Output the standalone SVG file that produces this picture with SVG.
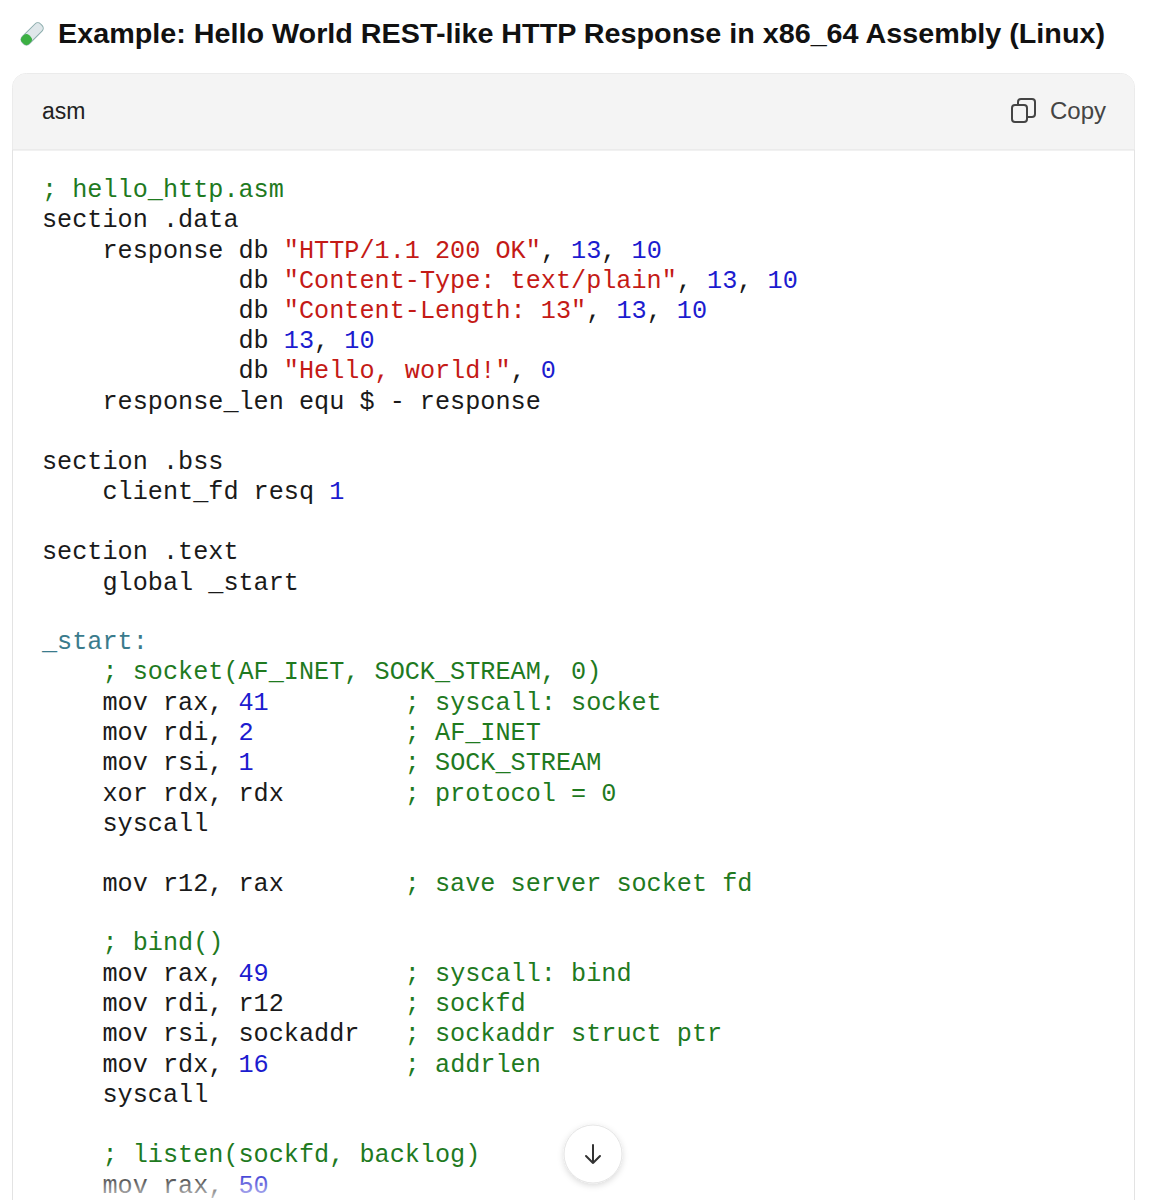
<svg xmlns="http://www.w3.org/2000/svg" width="1166" height="1200" viewBox="0 0 1166 1200">
<style>
.c{font-family:"Liberation Mono","DejaVu Sans Mono",monospace;font-size:25.2px;fill:#1a1a1a;white-space:pre}
.g{fill:#1f7a1f}.n{fill:#1c1ccf}.s{fill:#c41a16}.l{fill:#3a7b8c}
.ui{font-family:"Liberation Sans",Arial,sans-serif}
</style>
<defs>
<linearGradient id="fade" x1="0" y1="0" x2="0" y2="1"><stop offset="0" stop-color="#fff" stop-opacity="0"/><stop offset="1" stop-color="#fff" stop-opacity="0.75"/></linearGradient>
<filter id="sh" x="-30%" y="-30%" width="160%" height="160%"><feDropShadow dx="0" dy="2" stdDeviation="3" flood-opacity="0.15"/></filter>
</defs>
<rect width="1166" height="1200" fill="#fff"/>
<g id="title">
<g transform="translate(30,36) rotate(45)"><rect x="-5" y="-16" width="10" height="26" rx="4" fill="#dfe7ea" stroke="#8aa" stroke-width="1"/><rect x="-5" y="0" width="10" height="10" rx="4" fill="#3cb043"/></g>
<text class="ui" x="58" y="43" font-size="27" font-weight="bold" fill="#111" textLength="1047" lengthAdjust="spacingAndGlyphs">Example: Hello World REST-like HTTP Response in x86_64 Assembly (Linux)</text>
</g>
<g id="codeblock">
<rect x="12.5" y="73.5" width="1122" height="1160" rx="14" fill="#fff" stroke="#e3e3e3"/>
<path d="M12.5 150 V87.5 a14 14 0 0 1 14 -14 H1120.5 a14 14 0 0 1 14 14 V150 Z" fill="#f4f4f4"/>
<line x1="12.5" y1="150" x2="1134.5" y2="150" stroke="#e3e3e3"/>
<text class="ui" x="42" y="119" font-size="23" fill="#222">asm</text>
<g fill="none" stroke="#444" stroke-width="2"><rect x="1012" y="105" width="15" height="17" rx="3"/><path d="M1018 105 V102 a3 3 0 0 1 3 -3 H1032 a3 3 0 0 1 3 3 V114 a3 3 0 0 1 -3 3 H1027"/></g>
<text class="ui" x="1050" y="119" font-size="24" fill="#444">Copy</text>
</g>
<g id="code" class="c" xml:space="preserve">
<text x="42" y="197" class="c g">; hello_http.asm</text>
<text x="42" y="227" class="c">section .data</text>
<text x="42" y="258" class="c">    response db <tspan class="s">"HTTP/1.1 200 OK"</tspan>, <tspan class="n">13</tspan>, <tspan class="n">10</tspan></text>
<text x="42" y="288" class="c">             db <tspan class="s">"Content-Type: text/plain"</tspan>, <tspan class="n">13</tspan>, <tspan class="n">10</tspan></text>
<text x="42" y="318" class="c">             db <tspan class="s">"Content-Length: 13"</tspan>, <tspan class="n">13</tspan>, <tspan class="n">10</tspan></text>
<text x="42" y="348" class="c">             db <tspan class="n">13</tspan>, <tspan class="n">10</tspan></text>
<text x="42" y="378" class="c">             db <tspan class="s">"Hello, world!"</tspan>, <tspan class="n">0</tspan></text>
<text x="42" y="409" class="c">    response_len equ $ - response</text>
<text x="42" y="469" class="c">section .bss</text>
<text x="42" y="499" class="c">    client_fd resq <tspan class="n">1</tspan></text>
<text x="42" y="559" class="c">section .text</text>
<text x="42" y="590" class="c">    global _start</text>
<text x="42" y="649" class="c l">_start:</text>
<text x="42" y="679" class="c g">    ; socket(AF_INET, SOCK_STREAM, 0)</text>
<text x="42" y="710" class="c">    mov rax, <tspan class="n">41</tspan>         <tspan class="g">; syscall: socket</tspan></text>
<text x="42" y="740" class="c">    mov rdi, <tspan class="n">2</tspan>          <tspan class="g">; AF_INET</tspan></text>
<text x="42" y="770" class="c">    mov rsi, <tspan class="n">1</tspan>          <tspan class="g">; SOCK_STREAM</tspan></text>
<text x="42" y="801" class="c">    xor rdx, rdx        <tspan class="g">; protocol = 0</tspan></text>
<text x="42" y="831" class="c">    syscall</text>
<text x="42" y="891" class="c">    mov r12, rax        <tspan class="g">; save server socket fd</tspan></text>
<text x="42" y="950" class="c g">    ; bind()</text>
<text x="42" y="981" class="c">    mov rax, <tspan class="n">49</tspan>         <tspan class="g">; syscall: bind</tspan></text>
<text x="42" y="1011" class="c">    mov rdi, r12        <tspan class="g">; sockfd</tspan></text>
<text x="42" y="1041" class="c">    mov rsi, sockaddr   <tspan class="g">; sockaddr struct ptr</tspan></text>
<text x="42" y="1072" class="c">    mov rdx, <tspan class="n">16</tspan>         <tspan class="g">; addrlen</tspan></text>
<text x="42" y="1102" class="c">    syscall</text>
<text x="42" y="1162" class="c g">    ; listen(sockfd, backlog)</text>
<text x="42" y="1193" class="c">    mov rax, <tspan class="n">50</tspan></text>
</g>
<rect x="13" y="1168" width="1121" height="32" fill="url(#fade)"/>
<g id="scroll-button">
<circle cx="593" cy="1154" r="29" fill="#fff" stroke="#e5e5e5" filter="url(#sh)"/>
<path d="M593 1145 V1163 M586 1156 L593 1163 L600 1156" fill="none" stroke="#333" stroke-width="2" stroke-linecap="round" stroke-linejoin="round"/>
</g>
</svg>
